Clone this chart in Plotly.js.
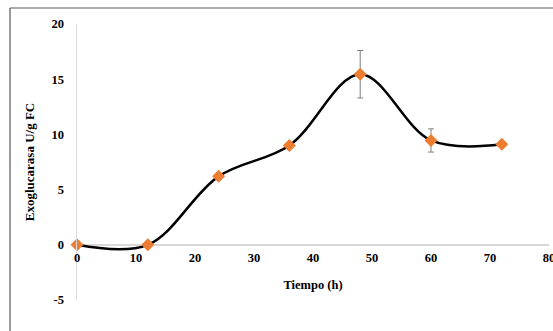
<!DOCTYPE html>
<html><head><meta charset="utf-8">
<script src="https://cdn.plot.ly/plotly-3.0.1.min.js"></script>
<style>html,body{margin:0;padding:0;background:#fff;}#c{width:553px;height:331px;}</style>
</head><body><div id="c"></div>
<script>
const tiempo = [0, 12, 24, 36, 48, 60, 72];
const exoglucanasa = [0, 0, 6.2, 9.0, 15.45, 9.45, 9.1];
const errores = [0, 0, 0, 0, 2.15, 1.05, 0];
const xTicks = [0, 10, 20, 30, 40, 50, 60, 70, 80];
const yTicks = [-5, 0, 5, 10, 15, 20];

const fam = '"Liberation Serif", "Times New Roman", serif';
const trace = {
  x: tiempo, y: exoglucanasa, type: 'scatter', mode: 'lines+markers',
  line: {color: '#000', width: 2.5, shape: 'spline', smoothing: 1},
  marker: {symbol: 'diamond', size: 10, color: '#ED7D31'},
  error_y: {type: 'data', array: errores, visible: true, color: '#7f7f7f', thickness: 1, width: 3},
  cliponaxis: false
};
const layout = {
  width: 553, height: 331,
  margin: {l: 77, r: 4, t: 24, b: 31},
  paper_bgcolor: '#fff', plot_bgcolor: '#fff',
  showlegend: false,
  font: {family: fam, size: 12, color: '#000'},
  xaxis: {
    range: [0, 80], tickvals: xTicks, ticktext: xTicks.map(v => '<b>' + v + '</b>'),
    showgrid: false, zeroline: false, showline: false, ticks: '',
    anchor: 'free', position: 0.2, ticklabelstandoff: 4, ticklabeloverflow: 'allow',
    tickfont: {family: fam, size: 12.5, color: '#000'},
    title: {text: '<b>Tiempo (h)</b>', font: {family: fam, size: 12.5, color: '#000'}, standoff: 15}
  },
  yaxis: {
    range: [-5, 20], tickvals: yTicks, ticktext: yTicks.map(v => '<b>' + v + '</b>'),
    showgrid: false, zeroline: true, zerolinecolor: '#d9d9d9', zerolinewidth: 1.5,
    showline: true, linecolor: '#d9d9d9', linewidth: 1.5, ticks: '',
    ticklabelstandoff: 9,
    tickfont: {family: fam, size: 12.5, color: '#000'},
    title: {text: '<b>Exoglucarasa U/g FC</b>', font: {family: fam, size: 13, color: '#000'}, standoff: 14}
  },
  shapes: [
    {type: 'line', xref: 'paper', yref: 'paper', x0: (10-77)/472, x1: 1.02, y0: (331-8-31)/276, y1: (331-8-31)/276, line: {color: '#595959', width: 1.2}},
    {type: 'line', xref: 'paper', yref: 'paper', x0: (10-77)/472, x1: (10-77)/472, y0: (331-8-31)/276, y1: -0.2, line: {color: '#595959', width: 1.2}}
  ]
};
Plotly.newPlot('c', [trace], layout, {staticPlot: true, displayModeBar: false});
</script></body></html>
